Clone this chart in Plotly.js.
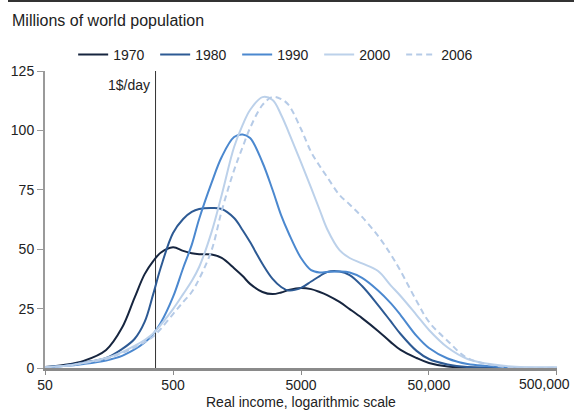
<!DOCTYPE html>
<html>
<head>
<meta charset="utf-8">
<script src="https://cdn.plot.ly/plotly-3.0.1.min.js"></script>
<style>
html,body{margin:0;padding:0;background:#fff;}
#chart{width:574px;height:411px;}
</style>
</head>
<body>
<div id="chart"></div>
<script>
// Income levels (real income, log scale)
const income = [50,70,100,150,200,250,300,350,400,500,600,700,800,1000,1200,1500,1750,2000,2500,3000,3500,4000,5000,6000,7000,8000,10000,12000,15000,20000,25000,30000,40000,50000,70000,100000,200000,500000];

// Millions of world population per income level
const pop1970 = [0.4,1.3,3,7.6,17,29.5,39.5,45,48.5,50.8,49.3,48.3,47.9,47.8,46.3,42,38.7,35.4,32,31.1,31.8,32.8,33.7,33.2,32,30.7,27.8,24.8,21,15.6,11,7.6,4.2,2.1,0.6,0.2,0,0];
const pop1980 = [0.3,1.0,2.3,4.2,8,12.2,19.4,31.1,42.1,56.8,62.7,65.7,66.9,67.3,66.9,63.1,58,53,43.8,37.5,34.1,32.6,33.7,36.4,38.7,40.4,40.6,39.1,34.5,26.5,19.8,14.3,7.2,3.8,1.5,0.4,0,0];
const pop1990 = [0.3,0.8,1.7,3.2,5.1,7.8,10.7,14.3,18.9,29.9,42.1,51.8,62.7,77.9,88.8,97.2,98.3,96.8,86.5,74.9,64.2,56.8,46.3,41.2,40.2,40.4,40.6,40.2,37.9,32.6,27.4,22.3,13.5,8.4,4,1.7,0.4,0.1];
const pop2000 = [0.4,0.8,2.1,4.2,6.7,9.3,11.8,14.5,18.1,24.8,31.1,36.6,42.5,57.2,72.8,93,102.3,108.6,114,112.8,106.5,99.3,86.5,75.8,66.5,58.5,49.6,46.3,44,40.8,34.9,30.3,22.3,16,8.6,3.8,0.8,0.2];
const pop2006 = [0.3,0.8,2.1,3.8,6.3,8.6,10.9,13.3,16.4,22.7,27.8,32,37.5,49.5,66.1,83.3,93,101,110.7,114.1,113.2,110.7,100.6,90.9,85,80.4,72.8,68.8,63.6,55.6,48,40.8,28.2,19.4,11.4,4.2,0.4,0.1];

const years = ['1970','1980','1990','2000','2006'];
const colors = ['#16253f','#2d5a94','#4b88cf','#bcd1ea','#b6cbe7'];
const dashes = ['solid','solid','solid','solid','6px,4px'];
const series = [pop1970,pop1980,pop1990,pop2000,pop2006];

// Poverty line: 1$/day = 365 per year
const povertyLine = 365;
const povertyLabel = '1$/day';

const xTickVals = [50,500,5000,50000,500000];
const xTickText = ['50','500','5000','50,000',''];
const lastTickLabel = '500,000';
const yTickVals = [0,25,50,75,100,125];

const traces = [];
traces.push({
  x:[povertyLine,povertyLine], y:[0,125], mode:'lines', showlegend:false, hoverinfo:'skip',
  line:{color:'#333333', width:1}
});
series.forEach((s,i)=>{
  traces.push({
    x: income, y: s, name: years[i], mode:'lines', type:'scatter',
    line:{color:colors[i], width:2, dash:dashes[i], shape:'spline', smoothing:1}
  });
});

const ff = '"Liberation Sans", Arial, sans-serif';
const font = {family:ff, size:14, color:'#222'};

const layout = {
  width:574, height:411,
  margin:{l:45, r:17, t:71, b:43},
  paper_bgcolor:'#fff', plot_bgcolor:'#fff',
  font: font,
  title:{text:'Millions of world population', x:12/574, xref:'container', xanchor:'left',
         y:1-20/411, yref:'container', yanchor:'middle',
         font:{family:ff, size:16, color:'#222'}},
  showlegend:true,
  legend:{orientation:'h', x:0.055, xanchor:'left', y:(368-55)/297, yref:'paper', yanchor:'middle',
          entrywidth:37, entrywidthmode:'pixels', traceorder:'normal', itemgap:0,
          font:{family:ff, size:14, color:'#222'},
          bgcolor:'rgba(0,0,0,0)'},
  xaxis:{type:'log', range:[Math.log10(50)-0.0005, Math.log10(500000)+0.0005], tickvals:xTickVals, ticktext:xTickText,
         showgrid:false, zeroline:false, showline:true, linecolor:'#8a8a8a', linewidth:3,
         ticks:'outside', ticklen:4, tickcolor:'#8a8a8a', tickwidth:1, ticklabelstandoff:-2,
         tickfont:{family:ff, size:14, color:'#222'},
         fixedrange:true},
  yaxis:{range:[0,125], tickvals:yTickVals, showgrid:false, zeroline:false, showline:true,
         linecolor:'#9a9a9a', linewidth:2, ticks:'outside', ticklen:6, tickcolor:'#9a9a9a', tickwidth:1,
         tickfont:{family:ff, size:14, color:'#222'},
         fixedrange:true},
  annotations:[
    {x:Math.log10(povertyLine), y:119, xref:'x', yref:'y', text:povertyLabel, showarrow:false,
     xanchor:'right', yanchor:'middle', xshift:-4,
     font:{family:ff, size:14, color:'#222'}},
    {x:Math.log10(xTickVals[4]), y:0, xref:'x', yref:'paper', text:lastTickLabel, showarrow:false,
     xanchor:'right', yanchor:'top', xshift:14, yshift:-7, borderpad:0,
     font:{family:ff, size:14, color:'#222'}},
    {x:0.5, y:-43/297, xref:'paper', yref:'paper', text:'Real income, logarithmic scale', showarrow:false,
     xanchor:'center', yanchor:'bottom', borderpad:0,
     font:{family:ff, size:14, color:'#222'}}
  ],
  shapes:[
    {type:'line', xref:'paper', yref:'paper', x0:-37/512, x1:(574-45)/512, y0:367/297, y1:367/297,
     line:{color:'#333333', width:2}}
  ]
};

Plotly.newPlot('chart', traces, layout, {displayModeBar:false, staticPlot:true});
</script>
</body>
</html>
